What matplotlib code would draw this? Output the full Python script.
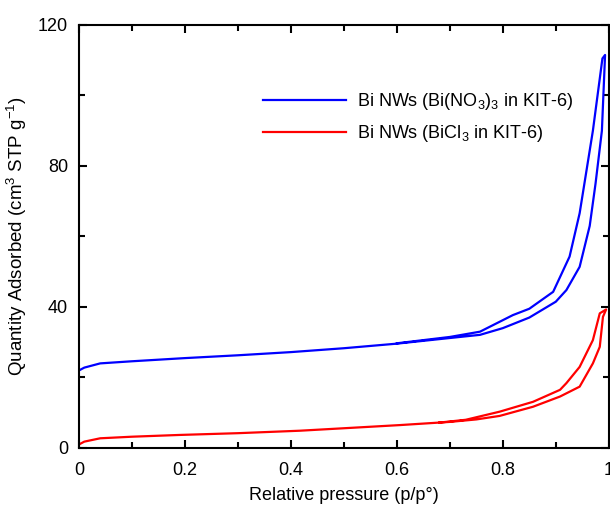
import matplotlib
matplotlib.use("Agg")
import matplotlib.pyplot as plt
from matplotlib.ticker import MultipleLocator

plt.rcParams['font.family'] = ['Liberation Sans', 'DejaVu Sans']
plt.rcParams['mathtext.fontset'] = 'custom'
plt.rcParams['mathtext.rm'] = 'Liberation Sans'
plt.rcParams['mathtext.it'] = 'Liberation Sans'

# Bi NWs (Bi(NO3)3 in KIT-6): adsorption then desorption branch
no3_ads_p = [0.0, 0.01, 0.04, 0.1, 0.2, 0.3, 0.4, 0.5, 0.6, 0.7, 0.757, 0.8, 0.85, 0.9, 0.92, 0.945, 0.964, 0.975, 0.987, 0.993]
no3_ads_v = [22.0, 22.8, 24.0, 24.6, 25.5, 26.3, 27.2, 28.3, 29.6, 31.2, 32.1, 34.0, 37.0, 41.5, 44.8, 51.4, 63.0, 75.0, 90.0, 111.5]
no3_des_p = [0.993, 0.988, 0.97, 0.945, 0.926, 0.895, 0.85, 0.819, 0.757, 0.7, 0.6]
no3_des_v = [111.5, 110.5, 90.0, 66.6, 54.3, 44.3, 39.5, 37.7, 33.0, 31.5, 29.7]

# Bi NWs (BiCl3 in KIT-6)
cl_ads_p = [0.0, 0.01, 0.04, 0.1, 0.19, 0.3, 0.417, 0.5, 0.606, 0.7, 0.75, 0.794, 0.857, 0.908, 0.945, 0.97, 0.983, 0.989, 0.995]
cl_ads_v = [1.0, 1.8, 2.75, 3.2, 3.7, 4.2, 4.9, 5.6, 6.5, 7.4, 8.1, 9.1, 11.7, 14.6, 17.4, 24.0, 28.7, 37.2, 39.3]
cl_des_p = [0.995, 0.983, 0.97, 0.945, 0.92, 0.908, 0.857, 0.794, 0.73, 0.68]
cl_des_v = [39.3, 38.2, 30.6, 23.0, 18.4, 16.5, 13.1, 10.3, 8.0, 7.2]

x_ticks = [0, 0.2, 0.4, 0.6, 0.8, 1.0]
x_ticklabels = ['0', '0.2', '0.4', '0.6', '0.8', '1']
y_ticks = [0, 40, 80, 120]
labels = [r'Bi NWs (Bi(NO$_3$)$_3$ in KIT-6)', r'Bi NWs (BiCl$_3$ in KIT-6)']

fig = plt.figure(figsize=(6.10, 5.07), dpi=100)
ax = fig.add_axes([0.1295, 0.1164, 0.8685, 0.8343])

ax.plot(no3_ads_p + no3_des_p, no3_ads_v + no3_des_v, color='#0000ff', lw=1.6, label=labels[0])
ax.plot(cl_ads_p + cl_des_p, cl_ads_v + cl_des_v, color='#ff0000', lw=1.6, label=labels[1])

ax.set_xlim(0, 1)
ax.set_ylim(0, 120)
ax.set_xticks(x_ticks)
ax.set_xticklabels(x_ticklabels)
ax.set_yticks(y_ticks)
ax.set_yticklabels([str(v) for v in y_ticks])
ax.xaxis.set_minor_locator(MultipleLocator(0.1))
ax.yaxis.set_minor_locator(MultipleLocator(20))
ax.tick_params(which='both', direction='in', top=True, right=True, width=1.5, labelsize=13)
ax.tick_params(axis='x', which='major', length=6, pad=10)
ax.tick_params(axis='y', which='major', length=6, pad=8)
ax.tick_params(which='minor', length=4)
for s in ax.spines.values():
    s.set_linewidth(1.5)

ax.set_xlabel('Relative pressure (p/p°)', fontsize=13, labelpad=6)
ax.set_ylabel(r'Quantity Adsorbed (cm$^3$ STP g$^{-1}$)', fontsize=13.5, labelpad=6)

ax.legend(loc='upper left', bbox_to_anchor=(0.333, 0.86), frameon=False, fontsize=13,
          handlelength=4.6, handletextpad=0.6, labelspacing=0.6, borderaxespad=0)

fig.savefig('out.png', dpi=100)
